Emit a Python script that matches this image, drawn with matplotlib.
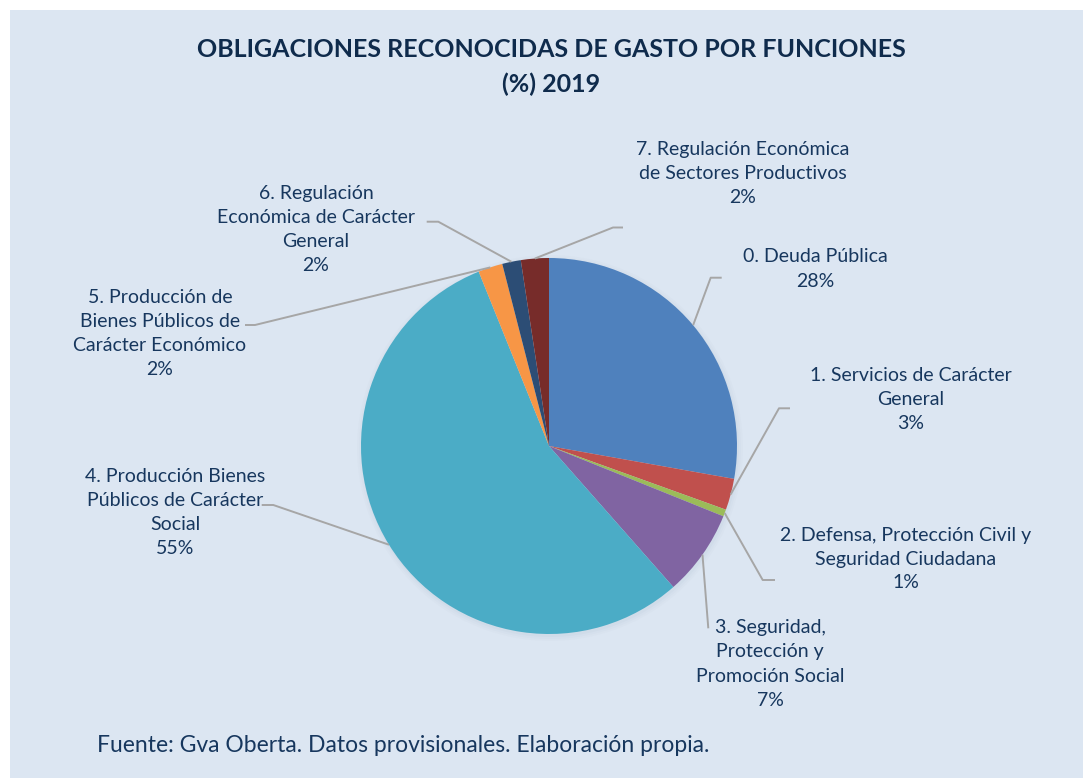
import numpy as np
import matplotlib
matplotlib.use("Agg")
import matplotlib.pyplot as plt
from matplotlib.patches import Rectangle

# datos (% de obligaciones reconocidas por funciones, 2019)
funciones = ["0. Deuda Pública",
             "1. Servicios de Carácter\nGeneral",
             "2. Defensa, Protección Civil y\nSeguridad Ciudadana",
             "3. Seguridad,\nProtección y\nPromoción Social",
             "4. Producción Bienes\nPúblicos de Carácter\nSocial",
             "5. Producción de\nBienes Públicos de\nCarácter Económico",
             "6. Regulación\nEconómica de Carácter\nGeneral",
             "7. Regulación Económica\nde Sectores Productivos"]
porcentajes = [27.8, 2.7, 0.6, 7.4, 55.4, 2.1, 1.6, 2.4]
colores = ["#4F81BD", "#C0504D", "#9BBB59", "#8064A2",
           "#4BACC6", "#F79646", "#2C4D75", "#772C2A"]

W, H = 1083, 778
def py(y):  # pixel y (desde arriba) -> coordenada del eje
    return H - y

# posicion de cada etiqueta (centro del texto) y codo de la linea guia
pos_texto = [(815, 269), (911, 399), (906, 559), (770, 664),
             (175, 512), (160, 333), (316, 229), (743, 173)]
codo = [(710.7, 277.7, 721.7), (779, 408.3, 790), (762.7, 580, 775),
        (708.3, 628.3, 708.3), (273.3, 505, 261.7), (255, 325, 245),
        (438.3, 221.7, 426.7), (613, 227.5, 623)]

plt.rcParams['font.family'] = ['Lato', 'DejaVu Sans']
azul_txt = "#17375E"

fig = plt.figure(figsize=(W / 100, H / 100), dpi=100)
fig.patch.set_facecolor("white")
ax = fig.add_axes([0, 0, 1, 1])
ax.add_patch(Rectangle((10, 0), W - 10, H - 10, facecolor="#DCE6F2",
                       edgecolor="none", zorder=0))

cx, cy, r = 549, py(446), 188
# sombra suave
for k, a in enumerate([0.05, 0.04, 0.03]):
    ax.add_patch(plt.Circle((cx + 1, cy - 2), r + 1 + 2 * k, color="#8A9BB0",
                            alpha=a, zorder=1, lw=0))
wedges, _ = ax.pie(porcentajes, colors=colores, startangle=90,
                   counterclock=False, center=(cx, cy), radius=r,
                   wedgeprops=dict(linewidth=0, zorder=2))
for w in wedges:
    w.set_zorder(2)

for i, w in enumerate(wedges):
    ang = np.deg2rad((w.theta1 + w.theta2) / 2)
    x0, y0 = cx + r * np.cos(ang), cy + r * np.sin(ang)
    ex, ey, hx = codo[i]
    ax.plot([x0, ex, hx], [y0, py(ey), py(ey)], color="#A6A6A6",
            lw=1.4, zorder=3, solid_capstyle="butt")
    tx, ty = pos_texto[i]
    txt = funciones[i] + "\n" + f"{round(porcentajes[i])}%"
    ax.text(tx, py(ty), txt, ha="center", va="center", fontsize=14,
            color=azul_txt, linespacing=1.5, zorder=4)

ax.text(551, py(67), "OBLIGACIONES RECONOCIDAS DE GASTO POR FUNCIONES\n(%) 2019",
        ha="center", va="center", fontsize=18, fontweight="bold",
        color="#0F2B4C", linespacing=1.6)
ax.text(97, py(745), "Fuente: Gva Oberta. Datos provisionales. Elaboración propia.",
        ha="left", va="center", fontsize=16.5, color=azul_txt)

ax.set_xlim(0, W)
ax.set_ylim(0, H)
ax.set_aspect("equal")
ax.axis("off")
fig.savefig("out.png", dpi=100, facecolor="white")
